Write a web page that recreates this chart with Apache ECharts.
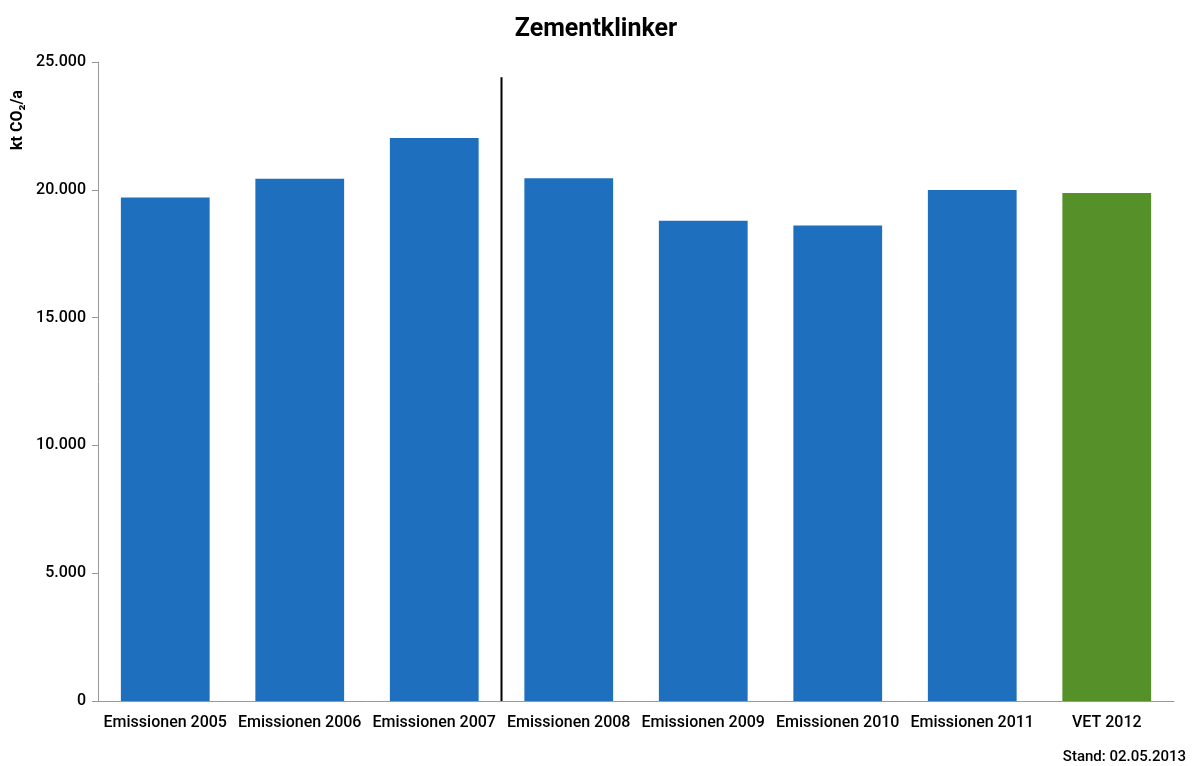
<!DOCTYPE html>
<html><head><meta charset="utf-8">
<script src="https://cdn.jsdelivr.net/npm/echarts@6/dist/echarts.min.js"></script>
<style>html,body{margin:0;padding:0;background:#fff}#c{width:1192px;height:766px}</style>
</head><body><div id="c"></div>
<script>
const categories = ["Emissionen 2005","Emissionen 2006","Emissionen 2007","Emissionen 2008","Emissionen 2009","Emissionen 2010","Emissionen 2011","VET 2012"];
const values = [19700, 20430, 22030, 20450, 18790, 18600, 19990, 19870];
const barColors = ["#1f6fbf","#1f6fbf","#1f6fbf","#1f6fbf","#1f6fbf","#1f6fbf","#1f6fbf","#559128"];
const dividerLine = [[3, 0], [3, 24400]];
const FONT = '"Roboto", "DejaVu Sans Condensed", sans-serif';
const chart = echarts.init(document.getElementById('c'), null, {renderer: 'canvas'});
chart.setOption({
  animation: false,
  title: {text: 'Zementklinker', left: 'center', top: 12,
    textStyle: {fontFamily: FONT, fontWeight: 'bold', fontSize: 25, color: '#000'}},
  graphic: [
    {type: 'text', right: 6, top: 750, style: {text: 'Stand: 02.05.2013', font: '500 15px ' + FONT, fill: '#000'}},
    {type: 'text', x: 10, y: 150, rotation: Math.PI / 2, style: {text: 'kt CO₂/a', font: 'bold 16px ' + FONT, fill: '#000'}}
  ],
  grid: {left: 98, right: 18, top: 62, bottom: 65},
  xAxis: [{
    type: 'category', data: categories,
    axisLine: {lineStyle: {color: '#999'}},
    axisTick: {lineStyle: {color: '#999'}, length: 6},
    axisLabel: {fontFamily: FONT, fontWeight: 500, fontSize: 16, color: '#000', margin: 14, interval: 0}
  }, {
    type: 'value', min: 0, max: 8, show: false
  }],
  yAxis: {
    type: 'value', min: 0, max: 25000, interval: 5000,
    axisLine: {show: true, lineStyle: {color: '#999'}},
    axisTick: {show: true, lineStyle: {color: '#999'}, length: 6},
    splitLine: {show: false},
    axisLabel: {fontFamily: FONT, fontWeight: 500, fontSize: 16, color: '#000', margin: 12,
      formatter: v => v === 0 ? '0' : (v / 1000).toFixed(3)}
  },
  series: [{
    type: 'bar', barCategoryGap: '34%',
    data: values.map((v, i) => ({value: v, itemStyle: {color: barColors[i]}}))
  }, {
    type: 'line', xAxisIndex: 1, data: dividerLine, symbol: 'none',
    lineStyle: {color: '#000', width: 2}
  }]
});
</script></body></html>
